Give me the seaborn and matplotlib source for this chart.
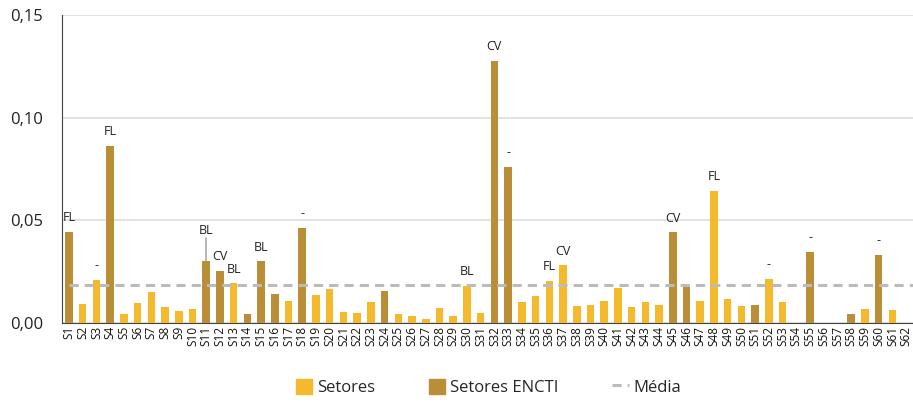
import numpy as np
import pandas as pd
import seaborn as sns
import matplotlib.pyplot as plt
from matplotlib.lines import Line2D
from matplotlib.patches import Patch
from matplotlib.ticker import FuncFormatter

# data
sectors = [f"S{i}" for i in range(1, 63)]
values = [
    0.0444, 0.0093, 0.0210, 0.0864, 0.0044, 0.0097, 0.0152, 0.0076, 0.0060, 0.0067,
    0.0303, 0.0255, 0.0193, 0.0044, 0.0300, 0.0140, 0.0107, 0.0463, 0.0136, 0.0166,
    0.0054, 0.0047, 0.0102, 0.0156, 0.0045, 0.0034, 0.0019, 0.0071, 0.0034, 0.0182,
    0.0049, 0.1278, 0.0760, 0.0104, 0.0131, 0.0205, 0.0281, 0.0085, 0.0086, 0.0106,
    0.0169, 0.0079, 0.0102, 0.0088, 0.0442, 0.0175, 0.0109, 0.0643, 0.0117, 0.0083,
    0.0088, 0.0214, 0.0102, 0.0, 0.0346, 0.0, 0.0, 0.0042, 0.0067, 0.0333,
    0.0063, 0.0,
]
encti = [1, 4, 11, 12, 14, 15, 16, 18, 24, 32, 33, 45, 46, 51, 55, 58, 60]
groups = ["Setores ENCTI" if i in encti else "Setores" for i in range(1, 63)]
tags = {1: "FL", 3: "-", 4: "FL", 11: "BL", 12: "CV", 13: "BL", 15: "BL", 18: "-",
        30: "BL", 32: "CV", 33: "-", 36: "FL", 37: "CV", 45: "CV", 48: "FL",
        52: "-", 55: "-", 60: "-"}
media = 0.0183

yellow = "#F5B92E"
brown = "#B98E36"

df = pd.DataFrame({"setor": sectors, "valor": values, "grupo": groups})

sns.set_style("white")
plt.rcParams["font.family"] = ["Open Sans", "DejaVu Sans"]

fig = plt.figure(figsize=(9.13, 4.05), dpi=100)
ax = fig.add_axes([0.068, 0.2025, 0.932, 0.7605])

sns.barplot(data=df, x="setor", y="valor", hue="grupo", dodge=False, width=0.55,
            palette={"Setores": yellow, "Setores ENCTI": brown}, saturation=1,
            edgecolor="none", legend=False, ax=ax, zorder=3)

ax.hlines(media, 0, 61.5, colors="#BBBBBB", linestyles=(0, (3, 2)), lw=2.2, zorder=4)

for idx, tag in tags.items():
    v = values[idx - 1]
    if idx == 11:
        ax.plot([idx - 1, idx - 1], [v, v + 0.0110], color="#AAAAAA", lw=1.2, zorder=2)
        ax.text(idx - 1, v + 0.0117, tag, ha="center", va="bottom", fontsize=9, color="#222222")
    else:
        ax.annotate(tag, (idx - 1, v), xytext=(0, 5.5), textcoords="offset points",
                    ha="center", va="bottom", fontsize=9, color="#222222")

ax.set_ylim(0, 0.15)
ax.set_xlim(-0.5, 61.5)
ax.set_yticks([0, 0.05, 0.10, 0.15])
ax.yaxis.set_major_formatter(FuncFormatter(lambda v, p: f"{v:.2f}".replace(".", ",")))
ax.grid(axis="y", color="#DDDDDD", lw=1.2, zorder=0)
ax.set_axisbelow(True)

ax.set_xticks(np.arange(-0.5, 62, 1), minor=True)
ax.tick_params(axis="x", which="major", length=0, labelrotation=90, labelsize=8.5,
               pad=2, labelcolor="#111111")
ax.tick_params(axis="x", which="minor", length=10, color="#666666", width=1)
ax.tick_params(axis="y", length=10, color="#444444", labelsize=12, labelcolor="#222222")
ax.set_xlabel("")
ax.set_ylabel("")

for s in ["top", "right"]:
    ax.spines[s].set_visible(False)
ax.spines["left"].set_color("#444444")
ax.spines["bottom"].set_color("#444444")

handles = [
    Patch(color=yellow, label="Setores"),
    Patch(color=brown, label="Setores ENCTI"),
    Line2D([0], [0], color="#BBBBBB", lw=2.2, ls=(0, (3, 2)), label="Média"),
]
fig.legend(handles=handles, loc="lower center", bbox_to_anchor=(0.535, -0.015), ncol=3,
           frameon=False, fontsize=12, handlelength=1.0, handleheight=1.0,
           columnspacing=3.2, handletextpad=0.3)

fig.savefig("out.png", dpi=100)
